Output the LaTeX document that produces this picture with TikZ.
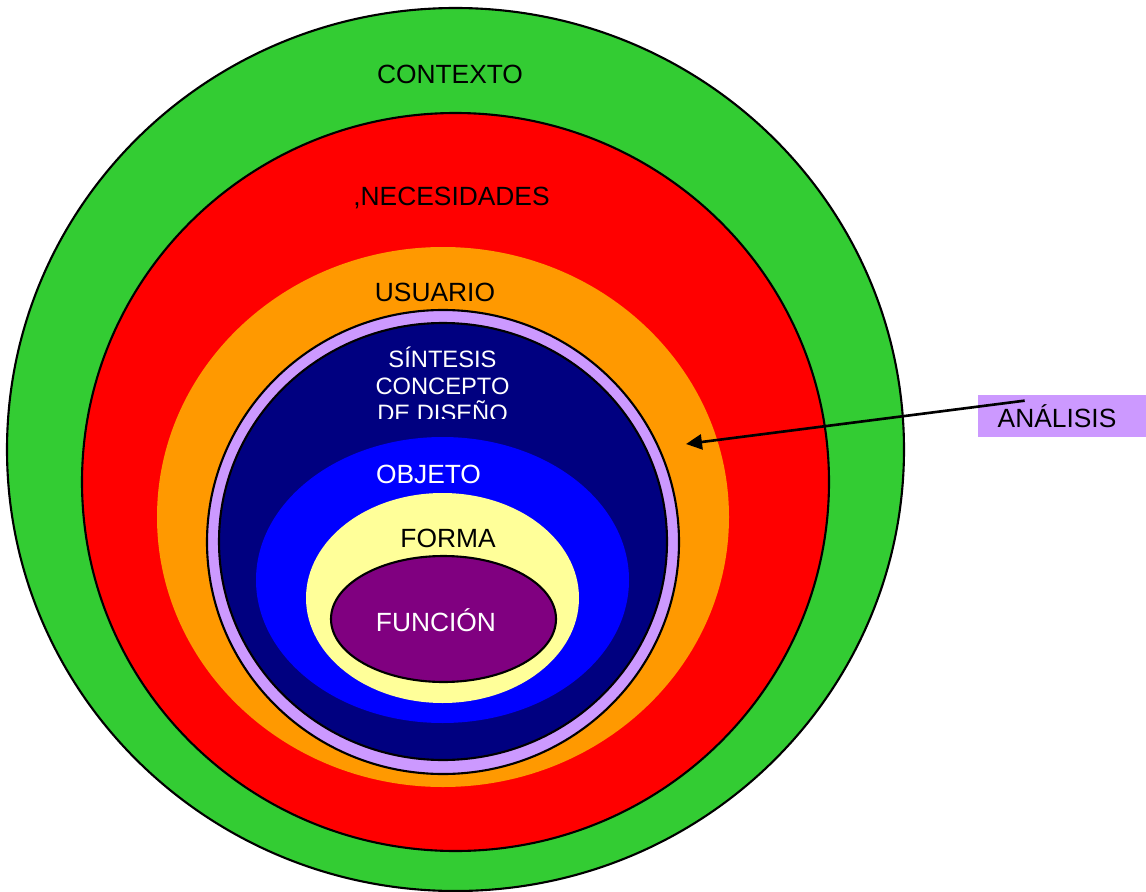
\documentclass[tikz,border=0pt]{standalone}
\usepackage{fontspec}
\setmainfont{Liberation Sans}
\usetikzlibrary{arrows.meta}

\definecolor{verde}{RGB}{51,204,51}
\definecolor{rojo}{RGB}{255,0,0}
\definecolor{naranja}{RGB}{255,153,0}
\definecolor{lavanda}{RGB}{204,153,255}
\definecolor{marino}{RGB}{0,0,128}
\definecolor{azul}{RGB}{0,0,255}
\definecolor{amarillo}{RGB}{255,255,153}
\definecolor{morado}{RGB}{128,0,128}

\tikzset{
  ring/.style={draw=black, line width=1.2pt},
  lbl/.style={font=\fontsize{15}{15.2}\selectfont, inner sep=0pt, anchor=base},
}

\begin{document}
\begin{tikzpicture}[x=0.02cm, y=-0.02cm]
\useasboundingbox (0,0) rectangle (1146,892);

% rings, from outside to inside
\filldraw[ring, fill=verde] (455.5,449.5) ellipse [x radius=448.5, y radius=441.5];
\filldraw[ring, fill=rojo] (455.5,482) ellipse [x radius=373.5, y radius=369];
\fill[naranja] (443,517) ellipse [x radius=286, y radius=270];
\filldraw[ring, fill=lavanda] (443,542) ellipse [x radius=236, y radius=232];
\filldraw[ring, fill=marino] (443,541.5) ellipse [x radius=224, y radius=218.5];
\fill[azul] (442.5,580) ellipse [x radius=186.5, y radius=143];
\fill[amarillo] (442.5,598) ellipse [x radius=136.5, y radius=105];
\filldraw[ring, fill=morado] (443.5,619) ellipse [x radius=112.5, y radius=63];

% labels
\node[lbl] (contexto) at (450,84) {CONTEXTO};
\node[lbl] (necesidades) at (451.5,205.5) {,NECESIDADES};
\node[lbl] (usuario) at (435,301.5) {USUARIO};
\begin{scope}
\clip (330,330) rectangle (560,418);
\node[lbl, white, align=center, font=\fontsize{13.5}{15.1}\selectfont] (sintesis) at (442.5,421)
  {SÍNTESIS\\CONCEPTO\\DE DISEÑO};
\end{scope}
\node[lbl, white] (objeto) at (428.5,483) {OBJETO};
\node[lbl] (forma) at (448,547) {FORMA};
\node[lbl, white] (funcion) at (436,631) {FUNCIÓN};

% side label and its arrow
\node[fill=lavanda, minimum width=3.36cm, minimum height=0.84cm, inner sep=0pt] (analisis) at (1062,416) {};
\node[lbl] (analisis-txt) at (1057,427) {ANÁLISIS};
\coordinate (desde) at ([xshift=0.94cm, yshift=-0.12cm]analisis.north west);
\coordinate (hasta) at (686,444);
\draw[line width=1.5pt, -{Triangle[length=0.32cm, width=0.3cm]}] (desde) -- (hasta);

\end{tikzpicture}
\end{document}
